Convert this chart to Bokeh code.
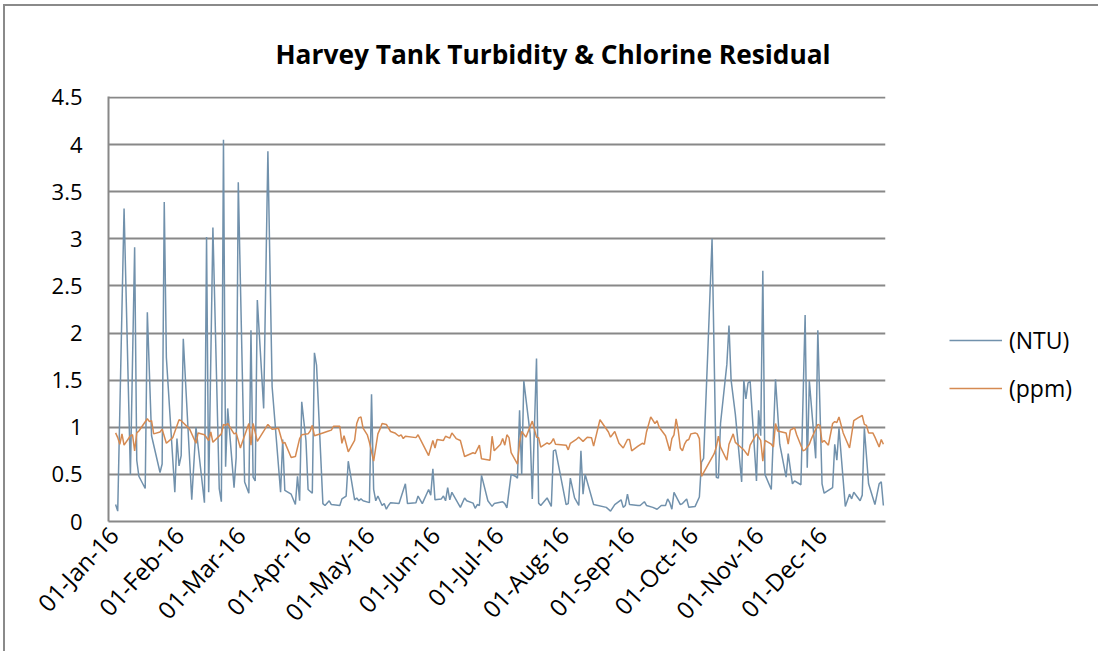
import pandas as pd
from bokeh.plotting import figure
from bokeh.models import (FixedTicker, DatetimeTickFormatter, NumeralTickFormatter,
                          Legend, LegendItem, Title, Range1d)
from bokeh.embed import file_html
from bokeh.resources import INLINE

# ---------------- data ----------------
YEAR_START = "2016-01-01"   # day offsets below count from this date

ntu_day = [1, 2, 5, 8, 10, 11, 12, 15, 16, 18, 22, 23, 24, 25, 29, 30, 31, 32, 33, 37,
           39, 43, 44, 45, 47, 50, 51, 52, 53, 54, 57, 58, 59, 62, 64, 65, 66, 67, 68, 71,
           73, 75, 79, 80, 81, 84, 86, 87, 88, 89, 91, 92, 94, 95, 96, 99, 100, 102, 103, 107,
           108, 110, 111, 114, 115, 116, 117, 118, 121, 122, 123, 124, 125, 127, 128, 129, 130, 131, 135, 138,
           139, 143, 144, 146, 149, 150, 151, 152, 155, 156, 157, 158, 159, 160, 164, 166, 167, 170, 171, 172,
           173, 174, 177, 179, 180, 184, 185, 186, 188, 190, 191, 192, 193, 194, 197, 198, 200, 201, 202, 205,
           207, 208, 209, 214, 215, 216, 218, 220, 221, 222, 223, 227, 233, 235, 237, 240, 241, 242, 243, 244,
           248, 249, 251, 252, 255, 257, 259, 261, 262, 263, 264, 265, 268, 269, 271, 272, 275, 277, 278, 279,
           281, 283, 285, 286, 287, 290, 291, 292, 294, 297, 298, 299, 300, 301, 304, 305, 306, 307, 308, 311,
           313, 315, 318, 319, 321, 322, 325, 327, 328, 329, 332, 333, 335, 336, 338, 340, 341, 342, 343, 346,
           348, 349, 350, 353, 354, 355, 357, 360, 362, 363, 364]
ntu_val = [0.18, 0.11, 3.32, 0.50, 2.91, 0.65, 0.48, 0.35, 2.22, 0.91, 0.52, 0.61, 3.39, 1.74, 0.31, 0.88, 0.59, 0.70, 1.94, 0.23,
           1.00, 0.20, 3.02, 0.31, 3.12, 0.35, 0.21, 4.05, 0.58, 1.20, 0.36, 0.68, 3.60, 0.42, 0.30, 2.03, 0.47, 0.43, 2.35, 1.20,
           3.93, 1.43, 0.31, 0.87, 0.33, 0.29, 0.18, 0.48, 0.22, 1.27, 0.86, 0.34, 0.30, 1.79, 1.66, 0.19, 0.17, 0.22, 0.18, 0.17,
           0.24, 0.27, 0.64, 0.23, 0.25, 0.22, 0.24, 0.22, 0.20, 1.35, 0.34, 0.22, 0.27, 0.17, 0.19, 0.13, 0.17, 0.20, 0.19, 0.40,
           0.19, 0.20, 0.27, 0.19, 0.34, 0.28, 0.56, 0.23, 0.24, 0.27, 0.22, 0.36, 0.23, 0.31, 0.15, 0.25, 0.22, 0.195, 0.14, 0.18,
           0.17, 0.49, 0.22, 0.16, 0.19, 0.21, 0.19, 0.145, 0.50, 0.48, 0.46, 1.18, 0.50, 1.49, 0.93, 0.24, 1.73, 0.195, 0.17, 0.25,
           0.16, 0.75, 0.76, 0.18, 0.19, 0.46, 0.25, 0.17, 0.75, 0.29, 0.50, 0.18, 0.15, 0.11, 0.18, 0.23, 0.15, 0.17, 0.29, 0.18,
           0.17, 0.17, 0.21, 0.17, 0.15, 0.13, 0.17, 0.17, 0.24, 0.20, 0.13, 0.31, 0.18, 0.19, 0.24, 0.15, 0.16, 0.26, 0.63, 0.67,
           1.81, 3.00, 0.47, 0.46, 1.04, 1.67, 2.08, 1.50, 1.14, 0.42, 1.50, 1.30, 1.47, 1.49, 0.43, 1.18, 0.91, 2.66, 0.50, 0.34,
           1.51, 0.82, 0.47, 0.72, 0.40, 0.43, 0.39, 2.19, 0.57, 1.49, 0.67, 2.03, 0.40, 0.30, 0.33, 0.36, 0.82, 0.65, 0.99, 0.16,
           0.29, 0.24, 0.31, 0.22, 0.28, 0.99, 0.40, 0.18, 0.40, 0.42, 0.17]

ppm_day = [1, 2, 3, 4, 5, 8, 9, 10, 11, 12, 16, 17, 18, 19, 22, 23, 25, 28, 31, 32,
           36, 39, 40, 43, 45, 46, 47, 51, 52, 53, 54, 57, 58, 60, 61, 64, 65, 66, 68, 73,
           75, 78, 80, 81, 84, 86, 88, 89, 92, 93, 94, 95, 99, 101, 103, 104, 107, 108, 109, 111,
           114, 115, 116, 117, 118, 120, 121, 123, 125, 126, 127, 129, 131, 133, 135, 136, 137, 138, 143, 144,
           149, 151, 152, 153, 156, 157, 159, 160, 162, 164, 166, 170, 171, 173, 174, 178, 179, 180, 183, 184,
           185, 186, 187, 188, 191, 192, 193, 195, 198, 200, 201, 202, 205, 206, 207, 208, 209, 214, 215, 216,
           219, 220, 222, 224, 226, 227, 230, 234, 235, 237, 239, 241, 243, 244, 245, 248, 250, 251, 252, 254,
           256, 257, 258, 261, 263, 264, 265, 266, 267, 268, 269, 270, 271, 272, 273, 275, 276, 277, 278, 284,
           285, 286, 287, 290, 291, 293, 294, 297, 298, 300, 301, 304, 306, 307, 308, 311, 312, 313, 314, 318,
           319, 320, 322, 323, 326, 327, 329, 330, 333, 334, 335, 336, 338, 340, 341, 342, 343, 345, 348, 350,
           352, 354, 355, 356, 357, 359, 360, 362, 363, 364]
ppm_val = [0.94, 0.89, 0.82, 0.93, 0.81, 0.91, 0.92, 0.75, 0.94, 0.96, 1.09, 1.06, 1.07, 0.93, 0.95, 0.98, 0.83, 0.89, 1.08, 1.07,
           0.98, 0.83, 0.94, 0.92, 0.86, 0.95, 0.84, 0.93, 1.03, 1.02, 1.04, 0.93, 0.94, 0.78, 0.85, 1.04, 0.81, 1.04, 0.85, 1.03,
           0.98, 0.99, 0.83, 0.84, 0.68, 0.69, 0.88, 0.92, 0.93, 0.96, 1.02, 0.91, 0.94, 0.955, 0.97, 1.01, 1.01, 0.83, 0.91, 0.74,
           0.86, 1.04, 1.10, 1.11, 0.99, 0.92, 0.84, 0.64, 0.93, 0.98, 1.04, 1.03, 0.955, 0.94, 0.905, 0.92, 0.88, 0.905, 0.89, 0.92,
           0.70, 0.86, 0.78, 0.87, 0.86, 0.905, 0.885, 0.94, 0.88, 0.86, 0.69, 0.73, 0.72, 0.81, 0.665, 0.65, 0.905, 0.75, 0.82, 0.88,
           0.81, 0.92, 0.89, 0.73, 0.61, 0.84, 0.955, 0.895, 1.065, 0.895, 0.89, 0.79, 0.835, 0.82, 0.84, 0.88, 0.82, 0.81, 0.76, 0.83,
           0.875, 0.895, 0.85, 0.895, 0.89, 0.80, 1.08, 0.95, 0.895, 0.955, 0.83, 0.78, 0.87, 0.87, 0.75, 0.80, 0.83, 0.82, 0.95, 1.11,
           1.04, 1.07, 1.00, 0.91, 0.75, 0.88, 0.92, 1.09, 0.97, 0.78, 0.75, 0.82, 0.86, 0.87, 0.93, 0.94, 0.93, 0.88, 0.48, 0.72,
           0.79, 0.905, 0.79, 0.65, 0.82, 0.93, 0.84, 0.78, 0.76, 0.70, 0.81, 0.93, 0.86, 0.64, 0.86, 0.82, 0.79, 1.04, 0.96, 0.94,
           0.82, 0.97, 0.995, 0.92, 0.75, 0.76, 0.82, 0.88, 1.03, 1.02, 0.84, 0.86, 0.81, 1.04, 1.06, 1.05, 1.11, 0.94, 0.78, 1.07,
           1.10, 1.125, 1.03, 1.02, 0.94, 0.94, 0.895, 0.79, 0.87, 0.82]

month_ticks = ["2016-01-01", "2016-02-01", "2016-03-01", "2016-04-01", "2016-05-01", "2016-06-01",
               "2016-07-01", "2016-08-01", "2016-09-01", "2016-10-01", "2016-11-01", "2016-12-01"]
y_ticks = [0, 0.5, 1, 1.5, 2, 2.5, 3, 3.5, 4, 4.5]
title_text = "Harvey Tank Turbidity & Chlorine Residual"
series_names = ["(NTU)", "(ppm)"]

# ---------------- build ----------------
t0 = pd.Timestamp(YEAR_START)
ntu_x = t0 + pd.to_timedelta(ntu_day, unit="D")
ppm_x = t0 + pd.to_timedelta(ppm_day, unit="D")

FONT = "Open Sans"
GRID = "#888888"
NTU_COLOR = "#7191AC"
PPM_COLOR = "#D58A52"

p = figure(x_axis_type="datetime", output_backend="svg", toolbar_location=None,
           frame_width=777, frame_height=425,
           min_border_left=103, min_border_right=210, min_border_top=90, min_border_bottom=130,
           x_range=Range1d(t0 - pd.Timedelta(days=2.36), t0 + pd.Timedelta(days=365)),
           y_range=Range1d(0, 4.51),
           background_fill_color="white", border_fill_color="white")
p.styles = {"margin": "4px 0px 0px 3px",
            "border-left": "2px solid #8a8a8a", "border-top": "2px solid #8a8a8a",
            "border-right": "2px solid #d8d8d8"}
p.outline_line_color = None

r_ntu = p.line(ntu_x, ntu_val, line_color=NTU_COLOR, line_width=1.5)
r_ppm = p.line(ppm_x, ppm_val, line_color=PPM_COLOR, line_width=1.5)

# axes
xa = p.xaxis[0]
xa.ticker = FixedTicker(ticks=[pd.Timestamp(t).value / 1e6 for t in month_ticks])
fmt = "%d-%b-%y"
xa.formatter = DatetimeTickFormatter(days=fmt, months=fmt, years=fmt)
xa.major_label_orientation = 0.82
xa.major_label_text_font = FONT
xa.major_label_text_font_size = "24px"
xa.major_label_text_color = "black"
xa.major_label_standoff = 3
xa.axis_line_color = GRID
xa.axis_line_width = 2
xa.major_tick_line_color = None
xa.minor_tick_line_color = None

ya = p.yaxis[0]
ya.ticker = FixedTicker(ticks=y_ticks)
ya.formatter = NumeralTickFormatter(format="0.[0]")
ya.major_label_text_font = FONT
ya.major_label_text_font_size = "22px"
ya.major_label_text_color = "black"
ya.major_label_standoff = 20
ya.axis_line_color = GRID
ya.axis_line_width = 2
ya.major_tick_line_color = None
ya.minor_tick_line_color = None

p.xgrid.grid_line_color = None
p.ygrid.grid_line_color = GRID
p.ygrid.grid_line_width = 2

# title
p.add_layout(Title(text=title_text, align="left", offset=167, standoff=50,
                   text_font=FONT, text_font_style="bold", text_font_size="26.3px",
                   text_color="black"), "above")

legend = Legend(items=[LegendItem(label=series_names[0], renderers=[r_ntu]),
                       LegendItem(label=series_names[1], renderers=[r_ppm])],
                location=(64, 117), orientation="vertical",
                label_text_font=FONT, label_text_font_size="23px", label_text_color="black",
                glyph_width=53, glyph_height=24, label_height=24, spacing=16,
                label_standoff=7, padding=0, margin=0,
                border_line_color=None, background_fill_alpha=0)
p.add_layout(legend, "right")

open("out.html", "w").write(file_html(p, INLINE))
